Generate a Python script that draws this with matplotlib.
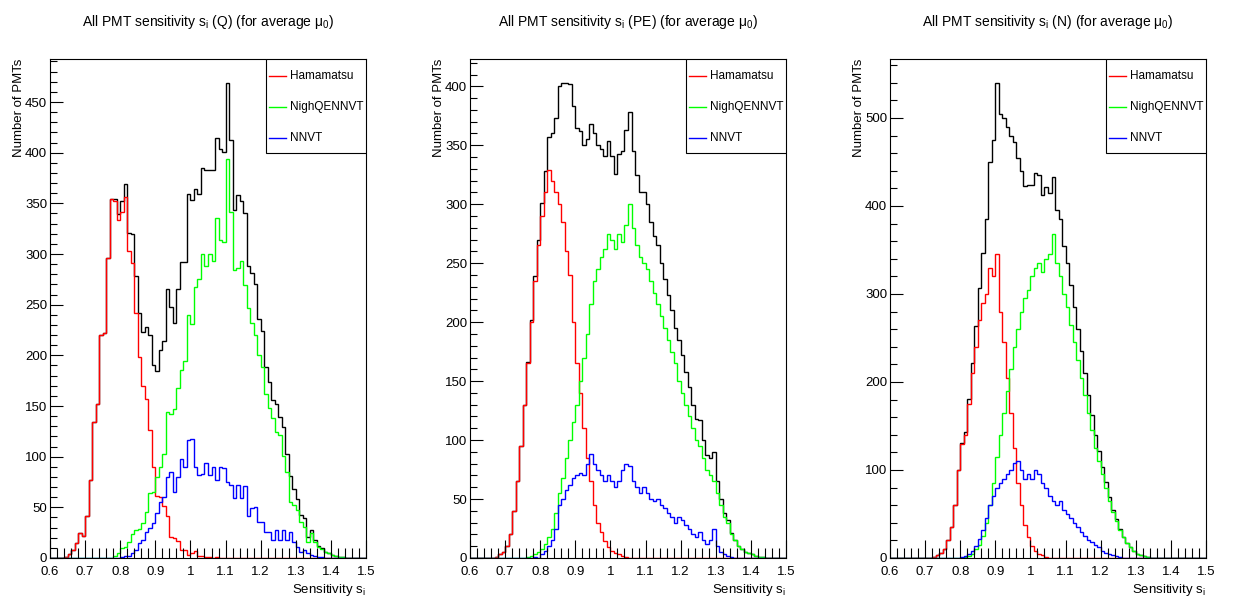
import numpy as np
import matplotlib
matplotlib.use("Agg")
import matplotlib.pyplot as plt
from matplotlib.lines import Line2D
from matplotlib.patches import Rectangle
from matplotlib.ticker import MultipleLocator

plt.rcParams['font.family'] = ['Liberation Sans', 'DejaVu Sans']
plt.rcParams['mathtext.fontset'] = 'custom'
plt.rcParams['mathtext.rm'] = 'Liberation Sans'
plt.rcParams['mathtext.it'] = 'Liberation Sans:italic'
plt.rcParams['mathtext.sf'] = 'Liberation Sans'

# 90 bins of 0.01 from 0.60 to 1.50
edges = np.round(np.linspace(0.6, 1.5, 91), 2)

# ---- s_i (Q) ----
q_ham = [0, 0, 0, 0, 1, 4, 8, 15, 25, 22,
         41, 77, 134, 152, 220, 222, 296, 354, 352, 334,
         341, 356, 303, 291, 242, 198, 170, 157, 126, 90,
         61, 60, 51, 41, 21, 20, 17, 8, 8, 3,
         5, 7, 2, 2, 1, 1, 0, 1, 0, 0,
         0, 0, 0, 0, 0, 0, 0, 0, 0, 0,
         0, 0, 0, 0, 0, 0, 0, 0, 0, 0,
         0, 0, 0, 0, 0, 0, 0, 0, 0, 0,
         0, 0, 0, 0, 0, 0, 0, 0, 0, 0]
q_nqe = [0, 0, 0, 0, 0, 0, 0, 0, 0, 0,
         0, 0, 0, 0, 0, 0, 0, 0, 2, 5,
         10, 11, 16, 24, 28, 29, 35, 45, 64, 65,
         80, 90, 103, 144, 142, 147, 168, 186, 194, 240,
         231, 267, 275, 300, 288, 300, 293, 336, 314, 312,
         394, 341, 284, 286, 293, 269, 247, 232, 220, 200,
         188, 162, 148, 138, 124, 121, 101, 85, 55, 52,
         47, 36, 31, 16, 25, 16, 11, 9, 6, 5,
         3, 2, 1, 1, 0, 0, 0, 0, 0, 0]
q_nnvt = [0, 0, 0, 0, 0, 0, 0, 0, 0, 0,
          0, 0, 0, 0, 0, 0, 0, 0, 0, 0,
          1, 2, 2, 5, 8, 15, 18, 26, 30, 35,
          44, 55, 60, 80, 85, 65, 80, 98, 90, 116,
          117, 90, 82, 83, 94, 82, 90, 77, 90, 89,
          75, 72, 59, 72, 59, 71, 41, 49, 50, 36,
          36, 26, 26, 18, 28, 18, 28, 18, 26, 16,
          11, 6, 8, 5, 3, 2, 1, 1, 0, 0,
          0, 0, 0, 0, 0, 0, 0, 0, 0, 0]

# ---- s_i (PE) ----
pe_ham = [0, 0, 0, 0, 0, 0, 0, 1, 3, 5,
          10, 20, 40, 65, 95, 130, 165, 200, 235, 265,
          290, 310, 329, 320, 310, 300, 285, 260, 240, 200,
          165, 140, 110, 85, 65, 45, 30, 22, 14, 9,
          6, 4, 3, 2, 1, 0, 0, 0, 0, 0,
          0, 0, 0, 0, 0, 0, 0, 0, 0, 0,
          0, 0, 0, 0, 0, 0, 0, 0, 0, 0,
          0, 0, 0, 0, 0, 0, 0, 0, 0, 0,
          0, 0, 0, 0, 0, 0, 0, 0, 0, 0]
pe_nqe = [0, 0, 0, 0, 0, 0, 0, 0, 0, 0,
          0, 0, 0, 0, 0, 0, 1, 2, 3, 5,
          8, 12, 18, 25, 38, 55, 68, 85, 100, 115,
          130, 150, 170, 190, 215, 235, 245, 255, 262, 275,
          270, 262, 275, 268, 282, 300, 280, 265, 255, 250,
          245, 235, 225, 215, 205, 195, 185, 175, 165, 150,
          140, 130, 120, 110, 100, 95, 85, 75, 70, 65,
          55, 45, 35, 30, 20, 15, 10, 8, 5, 4,
          3, 2, 1, 1, 0, 0, 0, 0, 0, 0]
pe_nnvt = [0, 0, 0, 0, 0, 0, 0, 0, 0, 0,
           0, 0, 0, 0, 0, 0, 0, 0, 1, 0,
           3, 6, 10, 15, 25, 45, 50, 58, 62, 68,
           70, 72, 70, 80, 88, 80, 75, 70, 65, 70,
           65, 60, 65, 75, 80, 78, 65, 60, 55, 60,
           55, 50, 48, 50, 45, 42, 38, 35, 30, 35,
           32, 28, 25, 20, 18, 22, 15, 12, 15, 25,
           10, 5, 3, 2, 1, 0, 0, 0, 0, 0,
           0, 0, 0, 0, 0, 0, 0, 0, 0, 0]

# ---- s_i (N) ----
n_ham = [0, 0, 0, 0, 0, 0, 0, 0, 0, 0,
         0, 0, 1, 3, 6, 10, 20, 35, 60, 100,
         130, 140, 175, 210, 240, 270, 290, 300, 330, 320,
         345, 280, 245, 205, 165, 125, 85, 60, 38, 24,
         14, 8, 5, 3, 1, 0, 0, 0, 0, 0,
         0, 0, 0, 0, 0, 0, 0, 0, 0, 0,
         0, 0, 0, 0, 0, 0, 0, 0, 0, 0,
         0, 0, 0, 0, 0, 0, 0, 0, 0, 0,
         0, 0, 0, 0, 0, 0, 0, 0, 0, 0]
n_nqe = [0, 0, 0, 0, 0, 0, 0, 0, 0, 0,
         0, 0, 0, 0, 0, 0, 0, 0, 0, 0,
         0, 1, 2, 4, 10, 15, 25, 40, 60, 85,
         115, 140, 165, 190, 215, 240, 260, 280, 295, 305,
         320, 330, 335, 325, 340, 345, 368, 335, 320, 300,
         285, 265, 245, 225, 205, 185, 165, 145, 125, 110,
         95, 80, 65, 52, 42, 32, 24, 17, 12, 8,
         5, 3, 2, 1, 0, 0, 0, 0, 0, 0,
         0, 0, 0, 0, 0, 0, 0, 0, 0, 0]
n_nnvt = [0, 0, 0, 0, 0, 0, 0, 0, 0, 0,
          0, 0, 0, 0, 0, 0, 0, 0, 0, 0,
          1, 2, 4, 8, 14, 22, 32, 45, 60, 70,
          80, 85, 90, 95, 100, 108, 110, 100, 90, 95,
          90, 100, 95, 85, 80, 70, 65, 60, 65, 55,
          50, 45, 40, 35, 30, 25, 20, 18, 15, 12,
          8, 6, 4, 3, 2, 1, 0, 0, 0, 0,
          0, 0, 0, 0, 0, 0, 0, 0, 0, 0,
          0, 0, 0, 0, 0, 0, 0, 0, 0, 0]

titles = [r"All PMT sensitivity $\mathrm{s_{i}}$ (Q) (for average $\mathrm{\mu_{0}}$)",
          r"All PMT sensitivity $\mathrm{s_{i}}$ (PE) (for average $\mathrm{\mu_{0}}$)",
          r"All PMT sensitivity $\mathrm{s_{i}}$ (N) (for average $\mathrm{\mu_{0}}$)"]
panels = [(q_ham, q_nqe, q_nnvt), (pe_ham, pe_nqe, pe_nnvt), (n_ham, n_nqe, n_nnvt)]
ymajor = [50, 50, 100]
yminor = [10, 10, 20]
names = ["Hamamatsu", "NighQENNVT", "NNVT"]
colors = ["#ff0000", "#00ff00", "#0000ff"]

W, H = 1234, 605
fig = plt.figure(figsize=(W / 100, H / 100), dpi=100)

for i, (ham, nqe, nnvt) in enumerate(panels):
    left = 50 + 420 * i
    ax = fig.add_axes([left / W, (H - 558) / H, 316 / W, 499 / H])
    ham = np.array(ham)
    nqe = np.array(nqe)
    nnvt = np.array(nnvt)
    total = ham + nqe + nnvt
    ax.stairs(total, edges, color="black", lw=1.0)
    for vals, c in zip([ham, nqe, nnvt], colors):
        ax.stairs(vals, edges, color=c, lw=1.0)
    ax.set_xlim(0.6, 1.5)
    ax.set_ylim(0, 1.05 * total.max())
    ax.set_axisbelow(False)

    ax.xaxis.set_major_locator(MultipleLocator(0.1))
    ax.xaxis.set_minor_locator(MultipleLocator(0.02))
    ax.yaxis.set_major_locator(MultipleLocator(ymajor[i]))
    ax.yaxis.set_minor_locator(MultipleLocator(yminor[i]))
    ax.xaxis.set_major_formatter(plt.FuncFormatter(lambda v, p: "%g" % round(v, 2)))
    ax.tick_params(axis="x", which="major", direction="in", length=13, width=0.8, pad=6,
                   labelsize=9.5, top=False)
    ax.tick_params(axis="x", which="minor", direction="in", length=7, width=0.8, top=False)
    ax.tick_params(axis="y", which="major", direction="in", length=9, width=0.8, pad=2,
                   labelsize=9.5, right=False)
    ax.tick_params(axis="y", which="minor", direction="in", length=5, width=0.8, right=False)
    for sp in ax.spines.values():
        sp.set_linewidth(0.8)

    ax.set_ylabel("Number of PMTs", loc="top", fontsize=9.5, labelpad=0)
    ax.set_xlabel(r"Sensitivity $\mathrm{s_{i}}$", loc="right", fontsize=9.5, labelpad=3)
    fig.text((left + 158) / W, 1 - 22 / H, titles[i], ha="center", va="center", fontsize=10)

    # legend box
    ax.add_patch(Rectangle((0.683, 0.812), 0.317, 0.188, transform=ax.transAxes,
                           facecolor="white", edgecolor="black", lw=0.8, zorder=5))
    for j, (nm, c) in enumerate(zip(names, colors)):
        yy = 0.966 - 0.062 * j
        ax.add_line(Line2D([0.693, 0.748], [yy, yy], transform=ax.transAxes,
                           color=c, lw=1.0, zorder=6))
        ax.text(0.758, yy, nm, transform=ax.transAxes, fontsize=8.5, va="center",
                ha="left", zorder=6)

fig.savefig("out.png", dpi=100)
